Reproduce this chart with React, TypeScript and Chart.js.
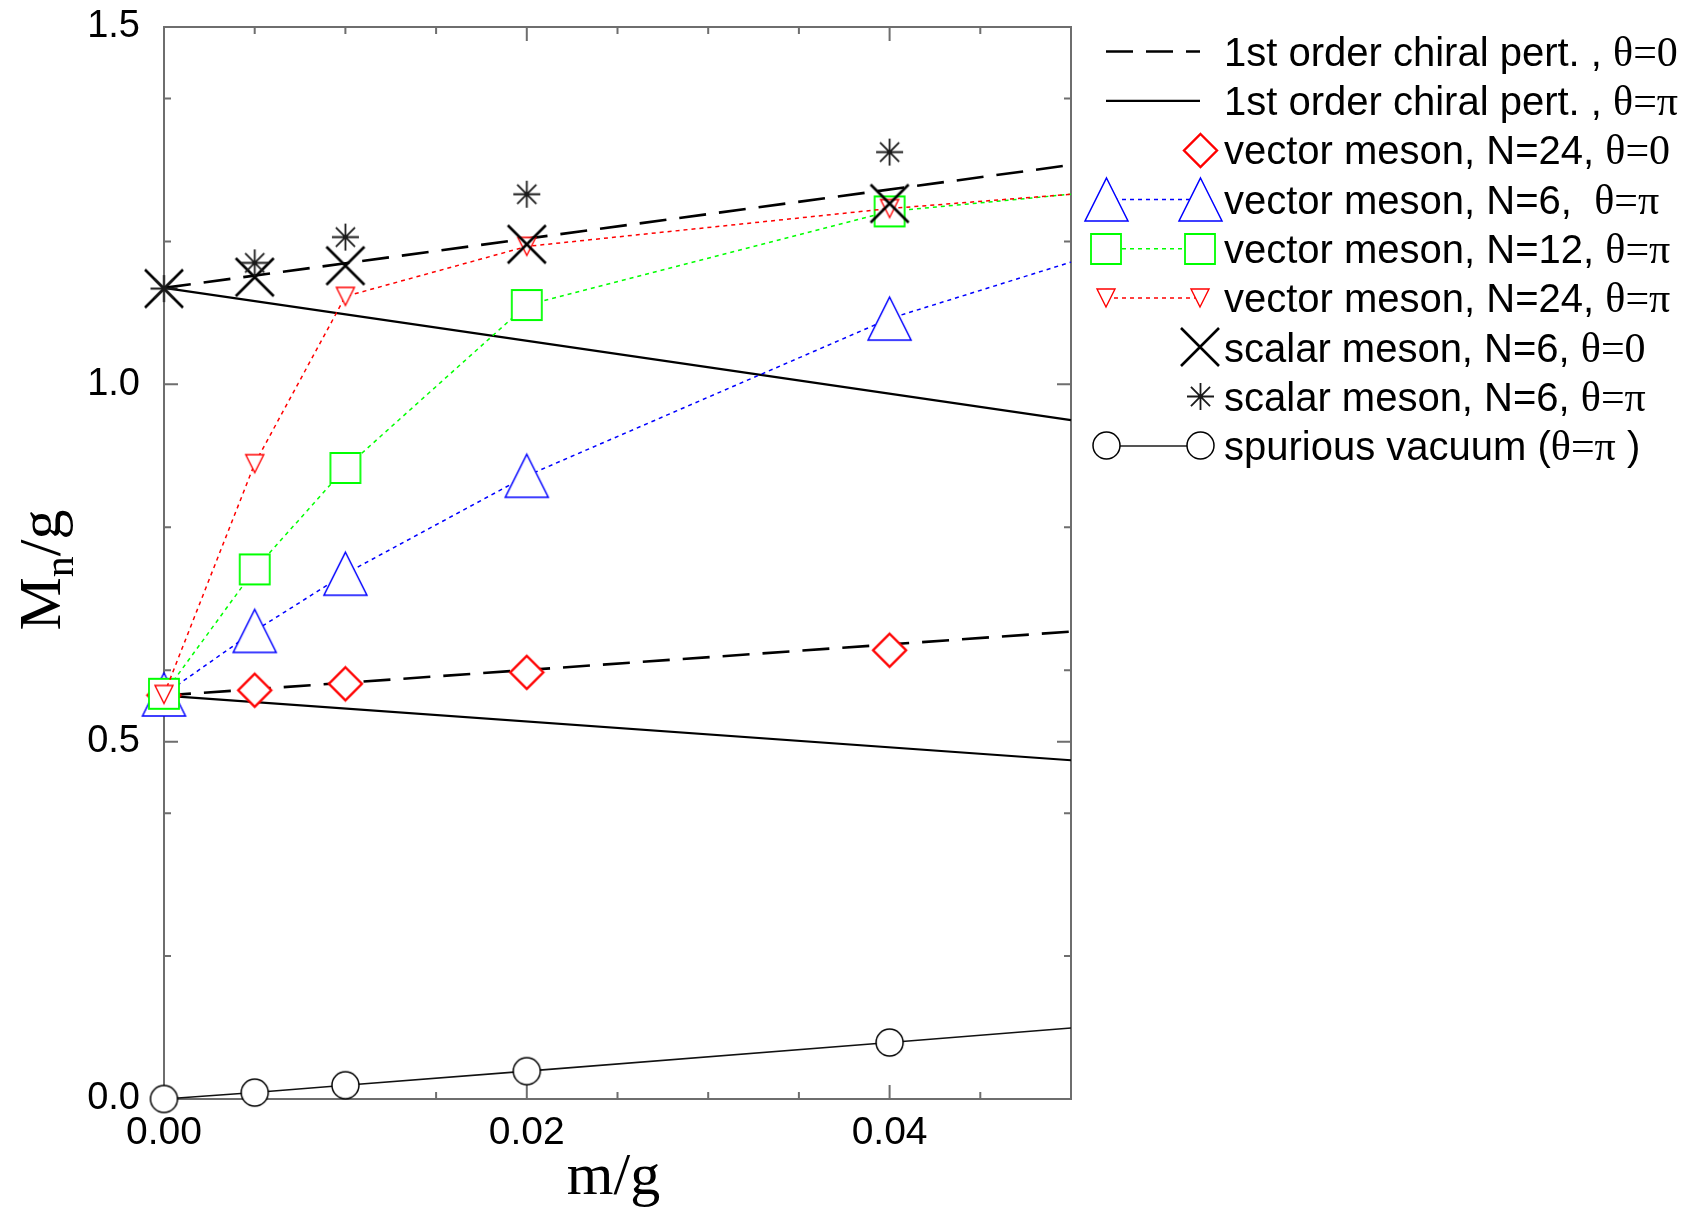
import React, { useEffect, useRef } from 'react';
import { Chart, registerables } from 'chart.js';

Chart.register(...registerables);

// ---------- data ----------
const M = [0, 0.005, 0.01, 0.02, 0.04];
const M_EXT = [0, 0.005, 0.01, 0.02, 0.04, 0.05];
const LINE_ENDS = [0, 0.05];

const vecN24Theta0 = [0.565, 0.572, 0.581, 0.597, 0.628];
const vecN6ThetaPi = [0.566, 0.655, 0.735, 0.872, 1.092, 1.171];
const vecN12ThetaPi = [0.567, 0.741, 0.883, 1.111, 1.242, 1.266];
const vecN24ThetaPi = [0.566, 0.889, 1.123, 1.193, 1.246, 1.266];
const scalarTheta0 = [1.134, 1.15, 1.166, 1.196, 1.253];
const scalarThetaPi = [1.134, 1.17, 1.206, 1.266, 1.325];
const spuriousVacuum = [0, 0.009, 0.0193, 0.039, 0.079, 0.0994];
const chiralTheta0Upper = [1.135, 1.307];
const chiralTheta0Lower = [0.5645, 0.654];
const chiralThetaPiUpper = [1.135, 0.95];
const chiralThetaPiLower = [0.5645, 0.474];

const X_LABEL_TICKS = [0, 0.02, 0.04];
const X_MINOR_TICKS = [0.005, 0.01, 0.015, 0.025, 0.03, 0.035, 0.045];
const Y_LABEL_TICKS = [0, 0.5, 1.0, 1.5];
const Y_MINOR_TICKS = [0.2, 0.4, 0.6, 0.8, 1.2, 1.4];

const LEGEND_TEXT: string[][] = [
  ['1st order chiral pert. , ', 'θ=0', ''],
  ['1st order chiral pert. , ', 'θ=π', ''],
  ['vector meson, N=24, ', 'θ=0', ''],
  ['vector meson, N=6,  ', 'θ=π', ''],
  ['vector meson, N=12, ', 'θ=π', ''],
  ['vector meson, N=24, ', 'θ=π', ''],
  ['scalar meson, N=6, ', 'θ=0', ''],
  ['scalar meson, N=6, ', 'θ=π', ''],
  ['spurious vacuum (', 'θ=π', ' )'],
];

const SANS = '"Liberation Sans", Arial, sans-serif';
const SERIF = '"Liberation Serif", "Times New Roman", serif';

const BLUE = '#0000ff';
const GREEN = '#00ff00';
const RED = '#ff0000';

type Kind = 'tri' | 'trid' | 'sq' | 'dia' | 'x' | 'star' | 'circle';

function makeMarker(kind: Kind, size: number, color: string, lw: number): HTMLCanvasElement {
  const pad = Math.ceil(lw) + 1;
  const W = Math.round(size + 2 * pad);
  const c = document.createElement('canvas');
  c.width = W;
  c.height = W;
  const g = c.getContext('2d')!;
  g.lineWidth = lw;
  g.strokeStyle = color;
  g.fillStyle = '#ffffff';
  g.lineJoin = 'miter';
  const cx = W / 2;
  const cy = W / 2;
  const h = size / 2;
  g.beginPath();
  switch (kind) {
    case 'tri':
      g.moveTo(cx, cy - h);
      g.lineTo(cx + h, cy + h);
      g.lineTo(cx - h, cy + h);
      g.closePath();
      g.fill();
      g.stroke();
      break;
    case 'trid':
      g.moveTo(cx, cy + h);
      g.lineTo(cx + h, cy - h);
      g.lineTo(cx - h, cy - h);
      g.closePath();
      g.fill();
      g.stroke();
      break;
    case 'sq':
      g.rect(cx - h, cy - h, size, size);
      g.fill();
      g.stroke();
      break;
    case 'dia':
      g.moveTo(cx, cy - h);
      g.lineTo(cx + h, cy);
      g.lineTo(cx, cy + h);
      g.lineTo(cx - h, cy);
      g.closePath();
      g.fill();
      g.stroke();
      break;
    case 'x':
      g.moveTo(cx - h, cy - h);
      g.lineTo(cx + h, cy + h);
      g.moveTo(cx + h, cy - h);
      g.lineTo(cx - h, cy + h);
      g.stroke();
      break;
    case 'star':
      for (let k = 0; k < 4; k++) {
        const a = (k * Math.PI) / 4;
        g.moveTo(cx + Math.cos(a) * h, cy + Math.sin(a) * h);
        g.lineTo(cx - Math.cos(a) * h, cy - Math.sin(a) * h);
      }
      g.stroke();
      break;
    case 'circle':
      g.arc(cx, cy, h, 0, Math.PI * 2);
      g.fill();
      g.stroke();
      break;
  }
  return c;
}

function pts(xs: number[], ys: number[]) {
  return ys.map((y, i) => ({ x: xs[i], y }));
}

export default function App() {
  const ref = useRef<HTMLCanvasElement | null>(null);

  useEffect(() => {
    const canvas = ref.current;
    if (!canvas) return;

    const mk = {
      tri: makeMarker('tri', 43, BLUE, 1.5),
      sq: makeMarker('sq', 30, GREEN, 1.8),
      trid: makeMarker('trid', 18, RED, 1.4),
      dia: makeMarker('dia', 33, RED, 2.4),
      x: makeMarker('x', 38, '#000000', 2.6),
      star: makeMarker('star', 27, '#1a1a1a', 1.8),
      circle: makeMarker('circle', 27, '#000000', 1.5),
    };

    const lastHidden = (n: number, r: number) => Array.from({ length: n }, (_, i) => (i < n - 1 ? r : 0));

    const DASH = [27, 13];
    const DOT = [4, 4];

    const datasets: any[] = [
      {
        label: 'spurious vacuum',
        data: pts(M_EXT, spuriousVacuum),
        showLine: true,
        borderColor: '#111111',
        borderWidth: 1.6,
        pointStyle: mk.circle,
        pointRadius: lastHidden(M_EXT.length, 14),
        order: 0,
      },
      {
        label: 'scalar meson theta=pi',
        data: pts(M, scalarThetaPi),
        showLine: false,
        pointStyle: mk.star,
        pointRadius: 14,
        order: 1,
      },
      {
        label: 'scalar meson theta=0',
        data: pts(M, scalarTheta0),
        showLine: false,
        pointStyle: mk.x,
        pointRadius: 19,
        order: 2,
      },
      {
        label: 'vector N=24 theta=pi',
        data: pts(M_EXT, vecN24ThetaPi),
        showLine: true,
        borderColor: RED,
        borderWidth: 1.5,
        borderDash: DOT,
        pointStyle: mk.trid,
        pointRadius: lastHidden(M_EXT.length, 10),
        order: 3,
      },
      {
        label: 'vector N=12 theta=pi',
        data: pts(M_EXT, vecN12ThetaPi),
        showLine: true,
        borderColor: GREEN,
        borderWidth: 1.5,
        borderDash: DOT,
        pointStyle: mk.sq,
        pointRadius: lastHidden(M_EXT.length, 15),
        order: 4,
      },
      {
        label: 'vector N=6 theta=pi',
        data: pts(M_EXT, vecN6ThetaPi),
        showLine: true,
        borderColor: BLUE,
        borderWidth: 1.5,
        borderDash: DOT,
        pointStyle: mk.tri,
        pointRadius: lastHidden(M_EXT.length, 22),
        order: 5,
      },
      {
        label: 'vector N=24 theta=0',
        data: pts(M, vecN24Theta0),
        showLine: false,
        pointStyle: mk.dia,
        pointRadius: 17,
        order: 6,
      },
      {
        label: 'chiral theta=0 (vector)',
        data: pts(LINE_ENDS, chiralTheta0Lower),
        showLine: true,
        borderColor: '#000000',
        borderWidth: 2.6,
        borderDash: DASH,
        pointRadius: 0,
        order: 7,
      },
      {
        label: 'chiral theta=0 (scalar)',
        data: pts(LINE_ENDS, chiralTheta0Upper),
        showLine: true,
        borderColor: '#000000',
        borderWidth: 2.6,
        borderDash: DASH,
        pointRadius: 0,
        order: 8,
      },
      {
        label: 'chiral theta=pi (vector)',
        data: pts(LINE_ENDS, chiralThetaPiLower),
        showLine: true,
        borderColor: '#000000',
        borderWidth: 2.2,
        pointRadius: 0,
        order: 9,
      },
      {
        label: 'chiral theta=pi (scalar)',
        data: pts(LINE_ENDS, chiralThetaPiUpper),
        showLine: true,
        borderColor: '#000000',
        borderWidth: 2.2,
        pointRadius: 0,
        order: 10,
      },
    ];
    datasets.forEach((d) => {
      d.clip = false;
      d.pointHoverRadius = 0;
    });

    const decor = {
      id: 'decor',
      beforeDatasetsDraw(chart: any) {
        const ctx: CanvasRenderingContext2D = chart.ctx;
        const xs = chart.scales.x;
        const ys = chart.scales.y;
        const { left, right, top, bottom } = chart.chartArea;
        ctx.save();
        // frame
        ctx.strokeStyle = '#6e6e6e';
        ctx.lineWidth = 2;
        ctx.setLineDash([]);
        ctx.strokeRect(left, top, right - left, bottom - top);

        // inward ticks on all four sides
        ctx.beginPath();
        const MAJ = 14;
        const MIN = 7;
        const xt = (v: number, len: number) => {
          const px = xs.getPixelForValue(v);
          ctx.moveTo(px, bottom);
          ctx.lineTo(px, bottom - len);
          ctx.moveTo(px, top);
          ctx.lineTo(px, top + len);
        };
        const yt = (v: number, len: number) => {
          const py = ys.getPixelForValue(v);
          ctx.moveTo(left, py);
          ctx.lineTo(left + len, py);
          ctx.moveTo(right, py);
          ctx.lineTo(right - len, py);
        };
        X_LABEL_TICKS.forEach((v) => xt(v, MAJ));
        X_MINOR_TICKS.forEach((v) => xt(v, MIN));
        Y_LABEL_TICKS.forEach((v) => yt(v, MAJ));
        Y_MINOR_TICKS.forEach((v) => yt(v, MIN));
        ctx.stroke();
        ctx.restore();
      },
      afterDraw(chart: any) {
        const ctx: CanvasRenderingContext2D = chart.ctx;
        const { left, right } = chart.chartArea;
        ctx.save();

        // axis titles
        ctx.fillStyle = '#000';
        ctx.textBaseline = 'alphabetic';
        ctx.font = `60px ${SERIF}`;
        ctx.textAlign = 'center';
        ctx.fillText('m/g', (left + right) / 2 - 4, 1194);

        // y title: M_n/g rotated
        ctx.textAlign = 'left';
        const big = `60px ${SERIF}`;
        const small = `42px ${SERIF}`;
        ctx.font = big;
        const wM = ctx.measureText('M').width;
        const wRest = ctx.measureText('/g').width;
        ctx.font = small;
        const wn = ctx.measureText('n').width;
        const total = wM + wn + wRest;
        ctx.save();
        ctx.translate(60, 570 + total / 2);
        ctx.rotate(-Math.PI / 2);
        ctx.font = big;
        ctx.fillText('M', 0, 0);
        ctx.font = small;
        ctx.fillText('n', wM, 13);
        ctx.font = big;
        ctx.fillText('/g', wM + wn, 0);
        ctx.restore();

        // legend
        const X1 = 1106;
        const X2 = 1200;
        const TX = 1224;
        const Y0 = 51.5;
        const DY = 49.3;
        const drawImg = (img: HTMLCanvasElement, x: number, y: number) => {
          ctx.drawImage(img, Math.round(x - img.width / 2), Math.round(y - img.height / 2));
        };
        const seg = (y: number, color: string, width: number, dash: number[]) => {
          ctx.beginPath();
          ctx.strokeStyle = color;
          ctx.lineWidth = width;
          ctx.setLineDash(dash);
          ctx.moveTo(X1, y);
          ctx.lineTo(X2, y);
          ctx.stroke();
          ctx.setLineDash([]);
        };
        for (let i = 0; i < LEGEND_TEXT.length; i++) {
          const y = Y0 + i * DY;
          switch (i) {
            case 0:
              seg(y, '#000', 2.6, DASH);
              break;
            case 1:
              seg(y, '#000', 2.2, []);
              break;
            case 2:
              drawImg(mk.dia, X2, y);
              break;
            case 3:
              seg(y, BLUE, 1.5, DOT);
              drawImg(mk.tri, X1, y);
              drawImg(mk.tri, X2, y);
              break;
            case 4:
              seg(y, GREEN, 1.5, DOT);
              drawImg(mk.sq, X1, y);
              drawImg(mk.sq, X2, y);
              break;
            case 5:
              seg(y, RED, 1.5, DOT);
              drawImg(mk.trid, X1, y);
              drawImg(mk.trid, X2, y);
              break;
            case 6:
              drawImg(mk.x, X2, y);
              break;
            case 7:
              drawImg(mk.star, X2, y);
              break;
            case 8:
              seg(y, '#555', 2, []);
              drawImg(mk.circle, X1, y);
              drawImg(mk.circle, X2, y);
              break;
          }
          const [a, b, c] = LEGEND_TEXT[i];
          const base = y + 14.3;
          ctx.fillStyle = '#000';
          ctx.textAlign = 'left';
          ctx.font = `40px ${SANS}`;
          let x = TX;
          ctx.fillText(a, x, base);
          x += ctx.measureText(a).width;
          ctx.font = `42px ${SERIF}`;
          ctx.fillText(b, x, base);
          x += ctx.measureText(b).width;
          if (c) {
            ctx.font = `40px ${SANS}`;
            ctx.fillText(c, x, base);
          }
        }
        ctx.restore();
      },
    };

    const chart = new Chart(canvas, {
      type: 'scatter',
      data: { datasets },
      options: {
        animation: false,
        responsive: false,
        events: [],
        devicePixelRatio: 1,
        layout: { padding: { left: 0, top: 27, right: 613, bottom: 0 } },
        plugins: {
          legend: { display: false },
          tooltip: { enabled: false },
        },
        scales: {
          x: {
            type: 'linear',
            min: 0,
            max: 0.05,
            grid: { display: false, drawTicks: false },
            border: { display: false },
            afterBuildTicks: (s: any) => {
              s.ticks = X_LABEL_TICKS.map((v) => ({ value: v }));
            },
            afterFit: (s: any) => {
              s.height = 113;
              s.paddingLeft = 0;
              s.paddingRight = 0;
            },
            ticks: {
              callback: (v: any) => Number(v).toFixed(2),
              font: { family: SANS, size: 39 },
              color: '#000',
              padding: 11,
              maxRotation: 0,
              autoSkip: false,
            },
          },
          y: {
            type: 'linear',
            min: 0,
            max: 1.5,
            grid: { display: false, drawTicks: false },
            border: { display: false },
            afterBuildTicks: (s: any) => {
              s.ticks = Y_LABEL_TICKS.map((v) => ({ value: v }));
            },
            afterFit: (s: any) => {
              s.width = 164;
              s.paddingTop = 0;
              s.paddingBottom = 0;
            },
            ticks: {
              callback: (v: any) => Number(v).toFixed(1),
              font: { family: SANS, size: 38 },
              color: '#000',
              padding: 24,
              autoSkip: false,
            },
          },
        },
      } as any,
      plugins: [decor],
    });

    return () => chart.destroy();
  }, []);

  return (
    <div style={{ position: 'absolute', left: 0, top: 0, width: 1684, height: 1212, background: '#fff' }}>
      <canvas ref={ref} width={1684} height={1212} style={{ display: 'block' }} />
    </div>
  );
}
